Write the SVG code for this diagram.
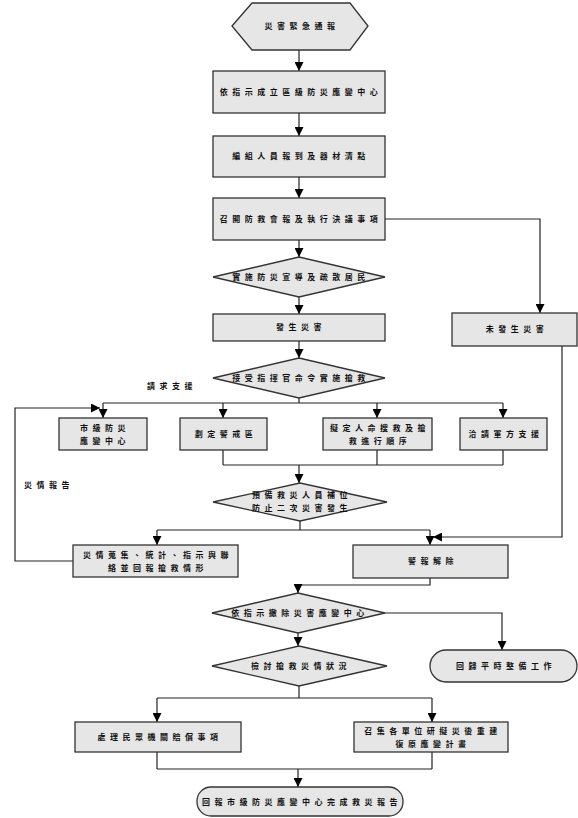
<svg xmlns="http://www.w3.org/2000/svg" width="578" height="818" viewBox="0 0 578 818">
<defs>
<marker id="ah" viewBox="0 0 10 10" refX="10" refY="5" markerWidth="9" markerHeight="9" markerUnits="userSpaceOnUse" orient="auto">
<path d="M0,0 L10,5 L0,10 z" fill="#000"/>
</marker>
</defs>
<style>
.n{fill:#e6e6e6;stroke:#333;stroke-width:1.3}
.c{fill:none;stroke:#222;stroke-width:1.2}
.a{marker-end:url(#ah)}
.t{font-family:"Noto Sans CJK TC","Noto Sans CJK SC",sans-serif;font-size:8px;font-weight:700;letter-spacing:4.5px;text-anchor:middle;fill:#111}
.l{font-family:"Noto Sans CJK TC","Noto Sans CJK SC",sans-serif;font-size:8px;font-weight:700;letter-spacing:4.5px;text-anchor:middle;fill:#111}
</style>
<rect width="578" height="818" fill="#fff"/>
<g id="connectors">
<path class="c a" d="M299,50 V71"/>
<path class="c a" d="M299,113 V136"/>
<path class="c a" d="M299,177 V198"/>
<path class="c a" d="M299,240 V257"/>
<path class="c a" d="M385,219 H540 V313"/>
<path class="c a" d="M299,297 V314"/>
<path class="c a" d="M299,341 V358"/>
<path class="c a" d="M562,346 V537 H433"/>
<path class="c" d="M299,398 V403 M103,403 H503"/>
<path class="c a" d="M103,403 V418"/>
<path class="c a" d="M223,403 V418"/>
<path class="c a" d="M377,403 V418"/>
<path class="c a" d="M503,403 V418"/>
<path class="c" d="M223,450 V465 M377,450 V465 M503,450 V465 M223,465 H503"/>
<path class="c a" d="M299,465 V483"/>
<path class="c" d="M300,521 V530 M157,530 H430"/>
<path class="c a" d="M157,530 V545"/>
<path class="c a" d="M430,530 V545"/>
<path class="c a" d="M73,561 H15 V408 H100"/>
<path class="c a" d="M430,578 V585 H298 V593"/>
<path class="c a" d="M385,613 H502 V650"/>
<path class="c a" d="M298,633 V646"/>
<path class="c" d="M299,686 V698 M157,698 H432"/>
<path class="c a" d="M157,698 V722"/>
<path class="c a" d="M432,698 V722"/>
<path class="c" d="M157,752 V769 M432,752 V769 M157,769 H432"/>
<path class="c a" d="M298,769 V787"/>
<text class="l" x="172" y="389">請求支援</text>
<text class="l" x="49" y="488">災情報告</text>
</g>
<g id="n1"><polygon class="n" points="232,26 252,3 350,3 368,26 350,50 252,50"/><text class="t" x="302" y="29">災害緊急通報</text></g>
<g id="n2"><rect class="n" x="213" y="71" width="172" height="42"/><text class="t" x="301" y="95">依指示成立區級防災應變中心</text></g>
<g id="n3"><rect class="n" x="213" y="136" width="172" height="41"/><text class="t" x="301" y="159">編組人員報到及器材清點</text></g>
<g id="n4"><rect class="n" x="213" y="198" width="172" height="42"/><text class="t" x="301" y="222">召開防救會報及執行決議事項</text></g>
<g id="n5"><polygon class="n" points="213,277 299,257 385,277 299,297"/><text class="t" x="301" y="280">實施防災宣導及疏散居民</text></g>
<g id="n6"><rect class="n" x="213" y="314" width="172" height="27"/><text class="t" x="301" y="330">發生災害</text></g>
<g id="n7"><rect class="n" x="452" y="313" width="125" height="33"/><text class="t" x="517" y="332">未發生災害</text></g>
<g id="n8"><polygon class="n" points="213,378 299,358 385,378 299,398"/><text class="t" x="301" y="381">接受指揮官命令實施搶救</text></g>
<g id="n9"><rect class="n" x="59" y="418" width="88" height="32"/><text class="t" x="105" y="431">市級防災</text><text class="t" x="105" y="444">應變中心</text></g>
<g id="n10"><rect class="n" x="180" y="418" width="87" height="32"/><text class="t" x="226" y="437">劃定警戒區</text></g>
<g id="n11"><rect class="n" x="323" y="418" width="109" height="32"/><text class="t" x="380" y="431">擬定人命搜救及搶</text><text class="t" x="380" y="444">救進行順序</text></g>
<g id="n12"><rect class="n" x="460" y="418" width="87" height="32"/><text class="t" x="506" y="437">洽請軍方支援</text></g>
<g id="n13"><polygon class="n" points="213,502 300,483 387,502 300,521"/><text class="t" x="302" y="498">預備救災人員補位</text><text class="t" x="302" y="511">防止二次災害發生</text></g>
<g id="n14"><rect class="n" x="73" y="545" width="165" height="32"/><text class="t" x="158" y="558">災情蒐集、統計、指示與聯</text><text class="t" x="158" y="571">絡並回報搶救情形</text></g>
<g id="n15"><rect class="n" x="353" y="545" width="155" height="33"/><text class="t" x="433" y="564">警報解除</text></g>
<g id="n16"><polygon class="n" points="212,613 298,593 385,613 298,633"/><text class="t" x="300" y="616">依指示撤除災害應變中心</text></g>
<g id="n17"><rect class="n" x="430" y="650" width="147" height="32" rx="16"/><text class="t" x="506" y="669">回歸平時整備工作</text></g>
<g id="n18"><polygon class="n" points="212,666 299,646 387,666 299,686"/><text class="t" x="301" y="669">檢討搶救災情狀況</text></g>
<g id="n19"><rect class="n" x="75" y="722" width="166" height="30"/><text class="t" x="160" y="740">處理民眾機關賠償事項</text></g>
<g id="n20"><rect class="n" x="354" y="722" width="154" height="30"/><text class="t" x="433" y="734">召集各單位研擬災後重建</text><text class="t" x="433" y="747">復原應變計畫</text></g>
<g id="n21"><rect class="n" x="197" y="787" width="206" height="29" rx="14"/><text class="t" x="302" y="805">回報市級防災應變中心完成救災報告</text></g>
</svg>
